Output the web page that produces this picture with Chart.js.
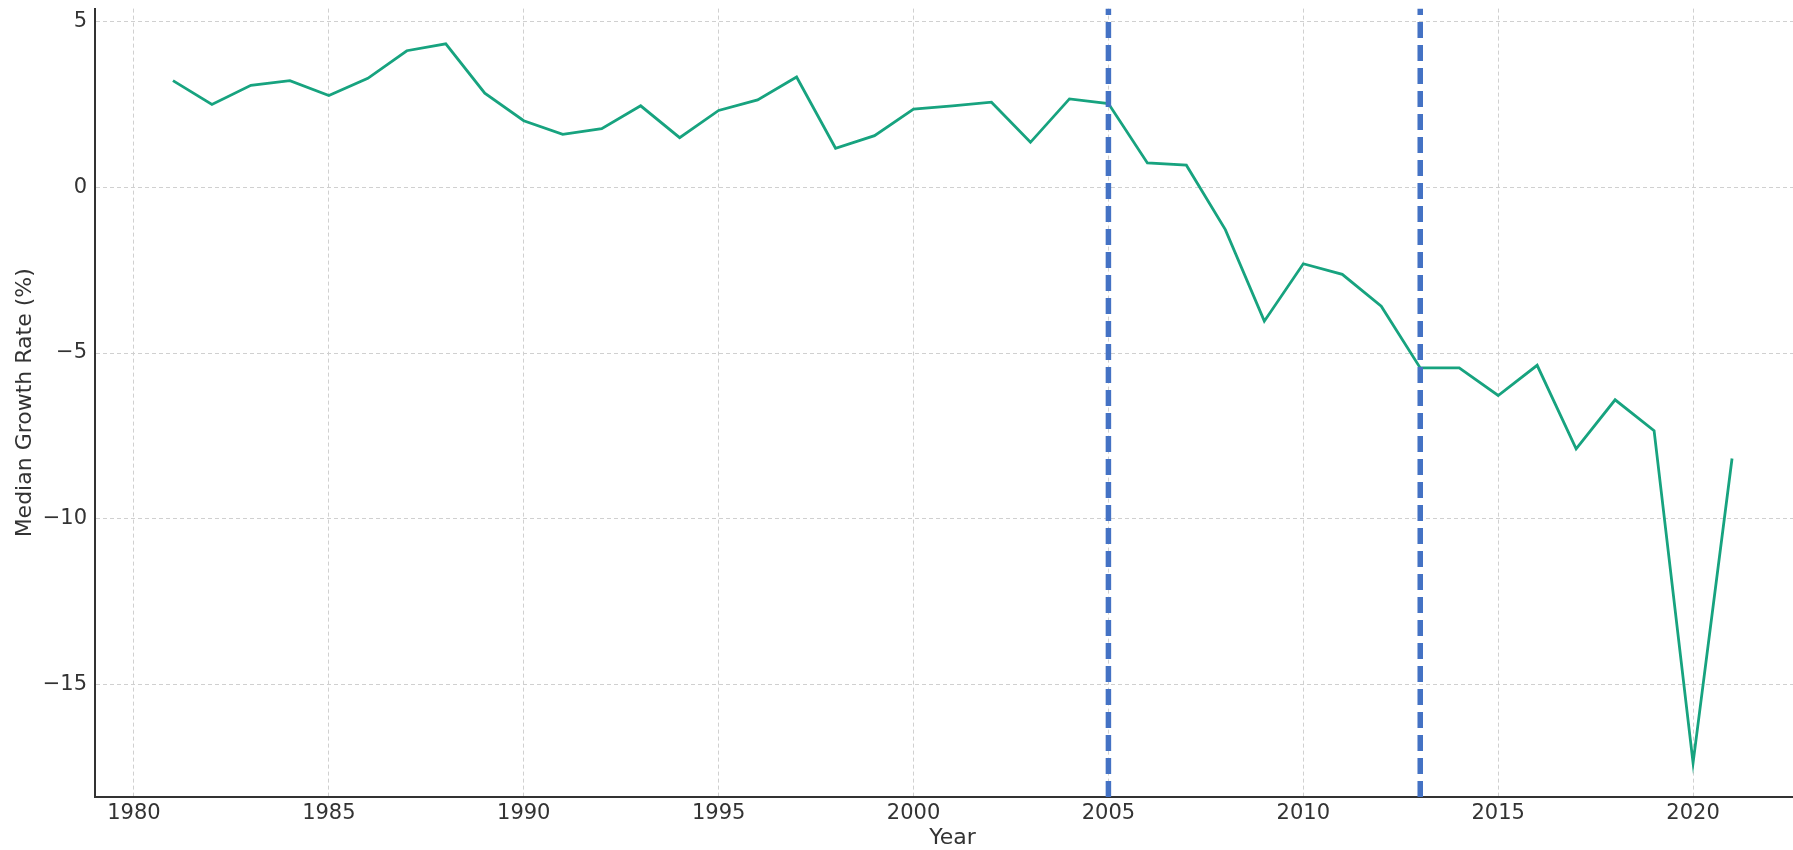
<!DOCTYPE html>
<html>
<head>
<meta charset="utf-8">
<script src="https://cdn.jsdelivr.net/npm/chart.js@4.4.1/dist/chart.umd.min.js"></script>
<style>
    html, body { margin: 0; padding: 0; background: #fff; overflow: hidden; }
    #wrap { position: absolute; left: 0; top: -12px; width: 1812px; height: 862px; }
</style>
</head>
<body>
<div id="wrap"><canvas id="growthChart"></canvas></div>
<script>
var years = [1981, 1982, 1983, 1984, 1985, 1986, 1987, 1988, 1989, 1990,
    1991, 1992, 1993, 1994, 1995, 1996, 1997, 1998, 1999, 2000,
    2001, 2002, 2003, 2004, 2005, 2006, 2007, 2008, 2009, 2010,
    2011, 2012, 2013, 2014, 2015, 2016, 2017, 2018, 2019, 2020, 2021];
var medianGrowth = [3.21, 2.49, 3.07, 3.21, 2.76, 3.28, 4.11, 4.32, 2.83, 2.00,
    1.59, 1.76, 2.45, 1.49, 2.31, 2.63, 3.32, 1.17, 1.55, 2.35,
    2.45, 2.56, 1.35, 2.66, 2.52, 0.73, 0.66, -1.28, -4.04, -2.31,
    -2.63, -3.59, -5.45, -5.45, -6.28, -5.37, -7.89, -6.41, -7.34, -17.35, -8.18];
var markerYears = [2005, 2013];
var xTicks = [1980, 1985, 1990, 1995, 2000, 2005, 2010, 2015, 2020];
var yTicks = [-15, -10, -5, 0, 5];
var xRange = [1979, 2023];
var yRange = [-18.38, 5.38];

var fontFamily = "'DejaVu Sans', sans-serif";
var tickFont = { family: fontFamily, size: 21 };
var textColor = '#333333';

var datasets = [{
    label: 'Median Growth Rate',
    data: years.map((y, i) => ({ x: y, y: medianGrowth[i] })),
    borderColor: '#17a37f',
    borderWidth: 2.8,
    pointRadius: 0,
    tension: 0,
    order: 2
}];

// dashed markers, drawn bottom-up like axvline
markerYears.forEach(function (yr) {
    datasets.push({
        label: 'marker ' + yr,
        data: [{ x: yr, y: yRange[0] }, { x: yr, y: yRange[1] }],
        borderColor: '#4472c4',
        borderWidth: 5.5,
        borderDash: [16, 7],
        pointRadius: 0,
        order: 1
    });
});

var ctx = document.getElementById('growthChart').getContext('2d');
var growthChart = new Chart(ctx, {
    type: 'line',
    data: { datasets: datasets },
    options: {
        responsive: true,
        maintainAspectRatio: false,
        animation: false,
        layout: { padding: { top: 0, right: 2, left: 0, bottom: 0 } },
        plugins: {
            legend: { display: false },
            tooltip: { enabled: false }
        },
        scales: {
            x: {
                type: 'linear',
                min: xRange[0],
                max: xRange[1],
                afterBuildTicks: function (scale) {
                    scale.ticks = xTicks.map(v => ({ value: v }));
                },
                afterFit: function (scale) { scale.height = 53; },
                ticks: {
                    font: tickFont,
                    color: textColor,
                    padding: 4,
                    maxRotation: 0,
                    callback: v => String(v)
                },
                grid: { color: '#d0d0d0', lineWidth: 1, drawTicks: false },
                border: { display: true, color: '#333333', width: 2, dash: [4, 3] },
                title: {
                    display: true,
                    text: 'Year',
                    font: { family: fontFamily, size: 22, lineHeight: 1.0 },
                    color: textColor,
                    padding: { top: 0, bottom: 1 }
                }
            },
            y: {
                min: yRange[0],
                max: yRange[1],
                afterBuildTicks: function (scale) {
                    scale.ticks = yTicks.map(v => ({ value: v }));
                },
                afterFit: function (scale) { scale.width = 95; },
                ticks: {
                    font: tickFont,
                    color: textColor,
                    padding: 8,
                    callback: v => (v < 0 ? '\u2212' + Math.abs(v) : String(v))
                },
                grid: { color: '#d0d0d0', lineWidth: 1, drawTicks: false },
                border: { display: true, color: '#333333', width: 2, dash: [4, 3] },
                title: {
                    display: true,
                    text: 'Median Growth Rate (%)',
                    font: { family: fontFamily, size: 22, lineHeight: 1.2 },
                    color: textColor,
                    padding: { top: 12, bottom: 0 }
                }
            }
        }
    }
});
</script>
</body>
</html>
